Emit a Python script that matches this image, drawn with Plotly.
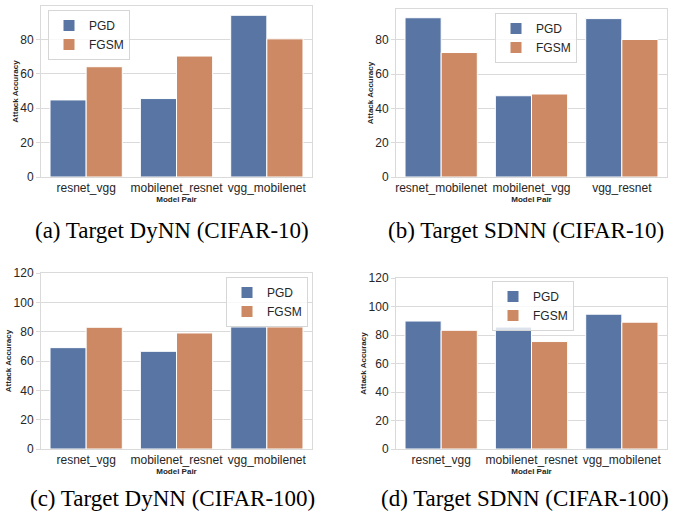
import plotly.graph_objects as go

# ---- data ----
cats_a = ["resnet_vgg", "mobilenet_resnet", "vgg_mobilenet"]
pgd_a = [44.8, 45.6, 94.0]
fgsm_a = [64.1, 70.3, 80.3]

cats_b = ["resnet_mobilenet", "mobilenet_vgg", "vgg_resnet"]
pgd_b = [92.9, 47.4, 92.4]
fgsm_b = [72.6, 48.4, 80.2]

cats_c = ["resnet_vgg", "mobilenet_resnet", "vgg_mobilenet"]
pgd_c = [69.1, 66.6, 83.2]
fgsm_c = [83.0, 79.1, 83.2]

cats_d = ["resnet_vgg", "mobilenet_resnet", "vgg_mobilenet"]
pgd_d = [89.8, 85.6, 94.6]
fgsm_d = [83.3, 75.4, 89.0]

captions = ["(a) Target DyNN (CIFAR-10)", "(b) Target SDNN (CIFAR-10)",
            "(c) Target DyNN (CIFAR-100)", "(d) Target SDNN (CIFAR-100)"]
series_names = ["PGD", "FGSM"]

# ---- style ----
W, H = 676, 512
BLUE = "#5875A4"
ORANGE = "#CC8963"
GRID = "#dadada"
TXT = "#262626"

panels = [
    dict(cats=cats_a, pgd=pgd_a, fgsm=fgsm_a, px=(41, 312), py=(6, 177), yr=[0, 99.4],
         leg=(48, 10), cap=(172, 230)),
    dict(cats=cats_b, pgd=pgd_b, fgsm=fgsm_b, px=(396, 667), py=(9, 177), yr=[0, 98.0],
         leg=(495, 13), cap=(526, 230)),
    dict(cats=cats_c, pgd=pgd_c, fgsm=fgsm_c, px=(41, 312), py=(273, 449), yr=[0, 120],
         leg=(226, 277), cap=(172, 498)),
    dict(cats=cats_d, pgd=pgd_d, fgsm=fgsm_d, px=(396, 667), py=(278, 449), yr=[0, 120],
         leg=(492, 281), cap=(525, 498)),
]

fig = go.Figure()
layout = dict(
    width=W, height=H,
    margin=dict(l=0, r=0, t=0, b=0, autoexpand=False),
    paper_bgcolor="white", plot_bgcolor="white",
    barmode="group", bargap=0.2, bargroupgap=0.0,
    font=dict(family="Liberation Sans, Arial, sans-serif", color=TXT, size=12),
    annotations=[],
)

for i, p in enumerate(panels):
    n = "" if i == 0 else str(i + 1)
    leg = "legend" if i == 0 else f"legend{i + 1}"
    for name, vals, col in [(series_names[0], p["pgd"], BLUE), (series_names[1], p["fgsm"], ORANGE)]:
        fig.add_trace(go.Bar(
            x=p["cats"], y=vals, name=name,
            marker=dict(color=col, line=dict(color="white", width=1)),
            xaxis="x" + n, yaxis="y" + n, legend=leg, offsetgroup=name,
        ))
    layout["xaxis" + n] = dict(
        domain=[p["px"][0] / W, p["px"][1] / W], anchor="y" + n, automargin=False,
        showline=True, mirror=True, linecolor=GRID, linewidth=1,
        showgrid=False, ticks="", tickfont=dict(size=12, color=TXT),
        title=dict(text="<b>Model Pair</b>", font=dict(size=8, color=TXT), standoff=1),
        fixedrange=True,
    )
    layout["yaxis" + n] = dict(
        domain=[1 - p["py"][1] / H, 1 - p["py"][0] / H], anchor="x" + n, automargin=False,
        range=p["yr"], showline=True, mirror=True, linecolor=GRID, linewidth=1,
        showgrid=True, gridcolor=GRID, gridwidth=1, zeroline=False,
        dtick=20, ticks="outside", ticklen=4, tickcolor=GRID,
        tickfont=dict(size=12, color=TXT),
        title=dict(text="<b>Attack Accuracy</b>", font=dict(size=8, color=TXT), standoff=0),
        fixedrange=True,
    )
    layout[leg] = dict(
        x=p["leg"][0] / W, y=1 - p["leg"][1] / H, xanchor="left", yanchor="top",
        bgcolor="rgba(255,255,255,0.8)", bordercolor="#d6d6d6", borderwidth=1,
        font=dict(size=12, color=TXT), itemwidth=30,
    )
    layout["annotations"].append(dict(
        text=captions[i], xref="paper", yref="paper",
        x=p["cap"][0] / W, y=1 - p["cap"][1] / H, xanchor="center", yanchor="middle",
        showarrow=False, font=dict(family="Liberation Serif, Times New Roman, serif", size=23, color="black"),
    ))

fig.update_layout(**layout)
fig.write_html(
    "out.html",
    config={"displayModeBar": False},
    post_script="document.body.style.margin='0';document.body.style.overflow='hidden';",
)
